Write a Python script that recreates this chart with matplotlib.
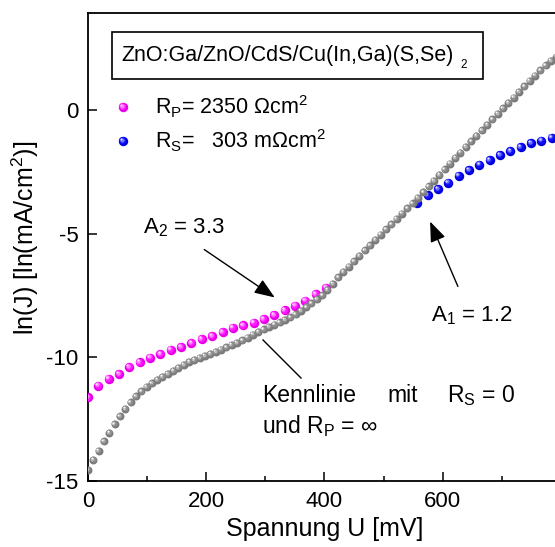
import matplotlib
matplotlib.use("Agg")
import matplotlib.pyplot as plt
from matplotlib.transforms import offset_copy
from matplotlib.patches import Rectangle, FancyArrowPatch

plt.rcParams['font.family'] = ['Liberation Sans', 'DejaVu Sans']
plt.rcParams['mathtext.fontset'] = 'custom'
plt.rcParams['mathtext.rm'] = 'Liberation Sans'
plt.rcParams['mathtext.it'] = 'Liberation Sans'
plt.rcParams['mathtext.bf'] = 'Liberation Sans:bold'
plt.rcParams['axes.unicode_minus'] = False

# ideal diode characteristic (R_S = 0, R_P = infinity), voltage in mV
u_ideal = [0, 9, 18, 27, 36, 45, 54, 63, 72, 81, 90, 99, 108, 117, 126, 135,
           144, 153, 162, 171, 180, 189, 198, 207, 216, 225, 234, 243, 252,
           261, 270, 279, 288, 297, 306, 315, 324, 333, 342, 351, 360, 369,
           378, 387, 396, 405, 414, 423, 432, 441, 450, 459, 468, 477, 486,
           495, 504, 513, 522, 531, 540, 549, 558, 567, 576, 585, 594, 603,
           612, 621, 630, 639, 648, 657, 666, 675, 684, 693, 702, 711, 720,
           729, 738, 747, 756, 765, 774, 783, 792, 801]
lnj_ideal = [-14.55, -14.15, -13.78, -13.40, -13.05, -12.70, -12.38, -12.08,
             -11.82, -11.58, -11.38, -11.20, -11.05, -10.92, -10.79, -10.67,
             -10.55, -10.43, -10.31, -10.19, -10.10, -10.02, -9.94, -9.86,
             -9.78, -9.69, -9.60, -9.50, -9.41, -9.31, -9.20, -9.08, -8.97,
             -8.87, -8.77, -8.68, -8.58, -8.49, -8.38, -8.26, -8.12, -7.97,
             -7.82, -7.66, -7.49, -7.28, -7.03, -6.77, -6.55, -6.33, -6.12,
             -5.90, -5.68, -5.47, -5.25, -5.04, -4.83, -4.62, -4.41, -4.19,
             -3.98, -3.77, -3.55, -3.32, -3.09, -2.86, -2.63, -2.40, -2.17,
             -1.94, -1.72, -1.49, -1.27, -1.04, -0.82, -0.60, -0.38, -0.16,
             0.06, 0.28, 0.50, 0.73, 0.95, 1.17, 1.39, 1.60, 1.80, 1.98,
             2.16, 2.34]

# measured curve, parallel-resistance dominated range
u_rp = [0, 17.5, 35, 52.5, 70, 87.5, 105, 122.5, 140, 157.5, 175, 192.5,
        210, 227.5, 245, 262.5, 280, 297.5, 315, 332.5, 350, 367.5, 385,
        402.5]
lnj_rp = [-11.62, -11.15, -10.86, -10.68, -10.40, -10.20, -10.01, -9.87,
          -9.69, -9.58, -9.42, -9.26, -9.14, -8.98, -8.81, -8.71, -8.60,
          -8.46, -8.29, -8.10, -7.92, -7.71, -7.44, -7.18]

# measured curve, series-resistance dominated range
u_rs = [557, 574.5, 592, 609.5, 627, 644.5, 662, 679.5, 697, 714.5, 732,
        749.5, 767, 784.5, 802]
lnj_rs = [-3.75, -3.45, -3.20, -2.94, -2.66, -2.43, -2.22, -2.02, -1.83,
          -1.66, -1.50, -1.34, -1.24, -1.13, -1.03]

x_ticks = [0, 200, 400, 600]
x_minor = [100, 300, 500, 700]
y_ticks = [-15, -10, -5, 0]

W, H = 555, 547
fig = plt.figure(figsize=(W / 100, H / 100), dpi=100)


def fx(px):
    return px / W


def fy(py):
    return 1 - py / H


AX_L, AX_R, AX_T, AX_B = 88, 561, 13, 481
ax = fig.add_axes([fx(AX_L), fy(AX_B), (AX_R - AX_L) / W, (AX_B - AX_T) / H])


def ax_x(px):
    return (px - AX_L) / (AX_R - AX_L)


def ax_y(py):
    return (AX_B - py) / (AX_B - AX_T)


def balls(x, y, d, shades, z, base=None, clip=True):
    """Shaded spheres: stacked discs shifted toward the upper left."""
    base = base if base is not None else ax.transData
    layers = [(1.0, 0.0), (0.74, 0.08), (0.46, 0.15), (0.22, 0.2)]
    for (frac, off), col in zip(layers, shades):
        tr = offset_copy(base, fig=fig, x=-off * d, y=off * d, units='points')
        ax.scatter(x, y, s=(frac * d) ** 2, c=col, linewidths=0,
                   transform=tr, zorder=z, clip_on=clip)


GRAY = ['#7a7a7a', '#8c8c8c', '#b8b8b8', '#ffffff']
MAGENTA = ['#e600e6', '#ff1aff', '#ff80ff', '#ffe0ff']
BLUE = ['#0000d8', '#1010ff', '#7070ff', '#e0e0ff']

balls(u_rp, lnj_rp, 6.8, MAGENTA, 3)
balls(u_rs, lnj_rs, 6.8, BLUE, 3)
balls(u_ideal, lnj_ideal, 5.7, GRAY, 4)

ax.set_xlim(0, 800)
ax.set_ylim(-15, 3.92)
ax.set_xticks(x_ticks)
ax.set_xticks(x_minor, minor=True)
ax.set_yticks(y_ticks)
ax.tick_params(axis='both', which='major', direction='in', length=6.5,
               width=1.1, labelsize=16, pad=7)
ax.tick_params(axis='x', which='minor', direction='in', length=3.5, width=1.1)
ax.spines['right'].set_visible(False)
for s in ('left', 'bottom', 'top'):
    ax.spines[s].set_linewidth(1.3)

ax.set_xlabel('Spannung U [mV]', fontsize=18, labelpad=4)
ax.set_ylabel(r'ln(J) [ln(mA/cm$^{\mathregular{2}}$)]', fontsize=18)
ax.yaxis.set_label_coords(ax_x(41), ax_y(238))

# sample box
fig.add_artist(Rectangle((fx(112), fy(79)), (483 - 112) / W, (79 - 32) / H,
                         transform=fig.transFigure, fill=False, lw=1.2,
                         ec='black', zorder=6))
fig.text(fx(121), fy(61), 'ZnO:Ga/ZnO/CdS/Cu(In,Ga)(S,Se)', fontsize=15.5,
         va='baseline', ha='left')
fig.text(fx(460), fy(68), '2', fontsize=8.5, va='baseline', ha='left')

# resistance legend
balls([ax_x(123)], [ax_y(107)], 6.8, MAGENTA, 5, base=ax.transAxes)
balls([ax_x(123)], [ax_y(141)], 6.8, BLUE, 5, base=ax.transAxes)
fig.text(fx(155), fy(114), r'R$_\mathregular{P}$= 2350 Ωcm$^\mathregular{2}$',
         fontsize=15.5, va='baseline', ha='left')
fig.text(fx(155), fy(148), r'R$_\mathregular{S}$=   303 mΩcm$^\mathregular{2}$',
         fontsize=15.5, va='baseline', ha='left')

# ideality factor annotations
head = '-|>,head_length=0.62,head_width=0.24'
fig.text(fx(143), fy(233), r'A$_\mathregular{2}$ = 3.3', fontsize=16,
         va='baseline', ha='left')
fig.add_artist(FancyArrowPatch(
    (fx(202), fy(248)), (fx(277), fy(299)), transform=fig.transFigure,
    arrowstyle=head, mutation_scale=20, lw=1.0, color='black'))
fig.text(fx(431), fy(321), r'A$_\mathregular{1}$ = 1.2', fontsize=16,
         va='baseline', ha='left')
fig.add_artist(FancyArrowPatch(
    (fx(459), fy(289)), (fx(429), fy(219)), transform=fig.transFigure,
    arrowstyle=head, mutation_scale=20, lw=1.0, color='black'))

# ideal characteristic label
fig.add_artist(plt.Line2D([fx(263), fx(301)], [fy(340), fy(378)],
                          transform=fig.transFigure, lw=1.0, color='black'))
fig.text(fx(262), fy(402), 'Kennlinie', fontsize=16.5, va='baseline')
fig.text(fx(387), fy(402), 'mit', fontsize=16.5, va='baseline')
fig.text(fx(447), fy(402), r'R$_\mathregular{S}$ = 0', fontsize=16.5,
         va='baseline')
fig.text(fx(262), fy(433), r'und R$_\mathregular{P}$ = ∞', fontsize=16.5,
         va='baseline')

fig.savefig('out.png', dpi=100)
